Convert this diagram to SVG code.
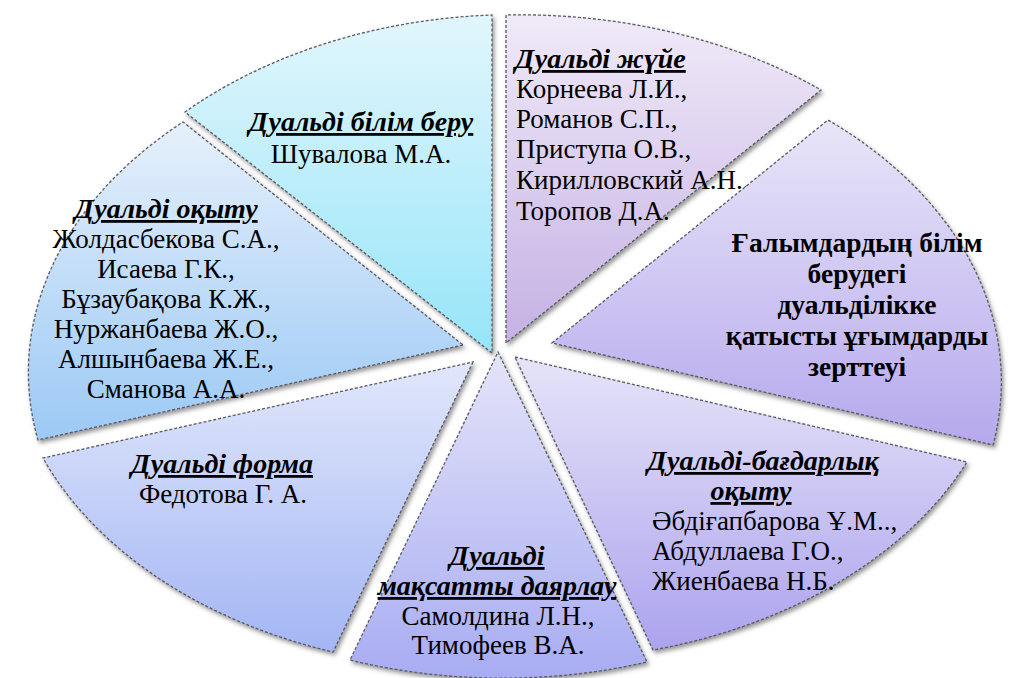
<svg xmlns="http://www.w3.org/2000/svg" width="1016" height="678" viewBox="0 0 1016 678">
<style>
.slice{stroke:#5a5a66;stroke-width:1.3;stroke-dasharray:3 2;filter:url(#sh)}
text{font-family:"Liberation Serif","Times New Roman",serif;fill:#000}
.h{font-size:28px;font-weight:bold;font-style:italic;text-decoration:underline}
.n{font-size:27px}
.t{font-size:27.5px;font-weight:bold}
.c{text-anchor:middle}
</style>
<defs>
<filter id="sh" x="-10%" y="-10%" width="120%" height="120%">
<feDropShadow dx="2" dy="3" stdDeviation="2" flood-color="#444" flood-opacity="0.55"/>
</filter>
<linearGradient id="g1" x1="0" y1="0" x2="0" y2="1"><stop offset="0" stop-color="#e2f6fc"/><stop offset="1" stop-color="#96e5f9"/></linearGradient>
<linearGradient id="g2" x1="0" y1="0" x2="0" y2="1"><stop offset="0" stop-color="#e6f0fc"/><stop offset="1" stop-color="#9cc9f5"/></linearGradient>
<linearGradient id="g3" x1="0" y1="0" x2="0" y2="1"><stop offset="0" stop-color="#e1e7fb"/><stop offset="1" stop-color="#a3b6f4"/></linearGradient>
<linearGradient id="g4" x1="0" y1="0" x2="0" y2="1"><stop offset="0" stop-color="#e4e4f9"/><stop offset="1" stop-color="#a8acf2"/></linearGradient>
<linearGradient id="g5" x1="0" y1="0" x2="0" y2="1"><stop offset="0" stop-color="#e6e4f8"/><stop offset="1" stop-color="#aca3ee"/></linearGradient>
<linearGradient id="g6" x1="0" y1="0" x2="0" y2="1"><stop offset="0" stop-color="#e8e6f8"/><stop offset="1" stop-color="#b6a8ed"/></linearGradient>
<linearGradient id="g7" x1="0" y1="0" x2="0" y2="1"><stop offset="0" stop-color="#f0eaf8"/><stop offset="1" stop-color="#c5b1e4"/></linearGradient>
</defs>
<g id="node-bilim-beru">
<path class="slice" fill="url(#g1)" d="M492,353 L185,112 A472 338 0 0 1 492,15 Z"/>
<text class="h c" x="361" y="131">Дуальді білім беру</text>
<text class="n c" x="361" y="163">Шувалова М.А.</text>
</g>

<g id="node-zhuie">
<path class="slice" fill="url(#g7)" d="M506,343 L506,15 A478 338 0 0 1 821,90 Z"/>
<text class="h" x="515" y="68">Дуальді жүйе</text>
<text class="n" x="516" y="98">Корнеева Л.И.,</text>
<text class="n" x="516" y="128">Романов С.П.,</text>
<text class="n" x="516" y="158">Приступа О.В.,</text>
<text class="n" x="516" y="189">Кирилловский А.Н..</text>
<text class="n" x="516" y="220">Торопов Д.А.</text>
</g>

<g id="node-center">
<path class="slice" fill="url(#g6)" d="M552,343 L828,120 A472 338 0 0 1 993,445 Z"/>
<text class="t c" x="857" y="252">Ғалымдардың білім</text>
<text class="t c" x="857" y="283">берудегі</text>
<text class="t c" x="857" y="314">дуальділікке</text>
<text class="t c" x="857" y="345">қатысты ұғымдарды</text>
<text class="t c" x="857" y="376">зерттеуі</text>
</g>

<g id="node-bagdarlyk">
<path class="slice" fill="url(#g5)" d="M515,357 L967,462 A472 338 0 0 1 653,650 Z"/>
<text class="h c" x="763" y="470">Дуальді-бағдарлық</text>
<text class="h c" x="751" y="500">оқыту</text>
<text class="n" x="652" y="530">Әбдіғапбарова Ұ.М..,</text>
<text class="n" x="652" y="560">Абдуллаева Г.О.,</text>
<text class="n" x="652" y="590">Жиенбаева Н.Б.</text>
</g>

<g id="node-maksatty">
<path class="slice" fill="url(#g4)" d="M498,352 L647,662 A472 338 0 0 1 350,660 Z"/>
<text class="h c" x="497" y="565">Дуальді</text>
<text class="h c" x="497" y="595">мақсатты даярлау</text>
<text class="n c" x="498" y="625">Самолдина Л.Н.,</text>
<text class="n c" x="498" y="654">Тимофеев В.А.</text>
</g>

<g id="node-forma">
<path class="slice" fill="url(#g3)" d="M473,362 L333,652 A472 338 0 0 1 43,458 Z"/>
<text class="h c" x="222" y="473">Дуальді форма</text>
<text class="n c" x="223" y="503">Федотова Г. А.</text>
</g>

<g id="node-okytu">
<path class="slice" fill="url(#g2)" d="M463,345 L38,440 A472 338 0 0 1 183,122 Z"/>
<text class="h c" x="166" y="218">Дуальді оқыту</text>
<text class="n c" x="166" y="248">Жолдасбекова С.А.,</text>
<text class="n c" x="166" y="278">Исаева Г.К.,</text>
<text class="n c" x="166" y="308">Бұзаубақова К.Ж.,</text>
<text class="n c" x="166" y="338">Нуржанбаева Ж.О.,</text>
<text class="n c" x="166" y="368">Алшынбаева Ж.Е.,</text>
<text class="n c" x="166" y="398">Сманова А.А.</text>
</g>
<g id="connectors"></g>
</svg>
